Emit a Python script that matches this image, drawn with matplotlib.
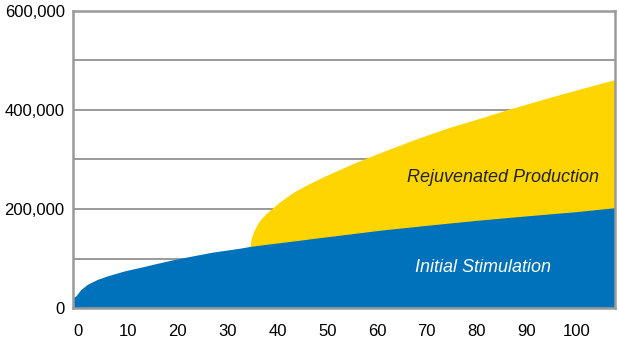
import matplotlib
matplotlib.use("Agg")
import matplotlib.pyplot as plt
from matplotlib.ticker import FuncFormatter

# values
initial_x = [-1.06, -0.5, 0.5, 1.8, 3.8, 5.8, 9.2, 12.5, 15.9, 19.2, 22.5, 27, 32.5, 34.5,
             38, 42.5, 48, 54.5, 60.5, 70, 80, 90, 100, 107.8]
initial_y = [21000, 25000, 38000, 48500, 58500, 65500, 75500, 83000, 91000, 98500, 105000,
             113500, 121500, 125000, 129500, 135000, 142000, 150000, 157500, 167500,
             177500, 186500, 195000, 203000]

rejuv_x = [34.5, 34.7, 35.1, 35.7, 36.5, 37.5, 38.5, 40.5, 43.2, 45.9, 49.2, 52.5, 55.9,
           61.2, 68, 74.6, 81.3, 86, 95, 100, 107.8]
rejuv_y = [125000, 140000, 152000, 165000, 178000, 189000, 198000, 215000, 234000, 249000,
           265000, 280000, 295000, 316000, 342000, 365000, 385000, 400000, 426000,
           440000, 461000]

x_ticks = [0, 10, 20, 30, 40, 50, 60, 70, 80, 90, 100]
y_ticks = [0, 200000, 400000, 600000]

blue = "#0072bc"
yellow = "#ffd500"
grey = "#9a9a9a"

plt.rcParams['font.family'] = ['Liberation Sans', 'DejaVu Sans']

fig = plt.figure(figsize=(6.2, 3.39), dpi=100)
ax = fig.add_axes([0.1177, 0.09, 0.8743, 0.879])

ax.fill_between(rejuv_x, 0, rejuv_y, color=yellow, lw=0, zorder=2)
ax.fill_between(initial_x, 0, initial_y, color=blue, lw=0, zorder=3)

ax.set_xlim(-1.06, 107.8)
ax.set_ylim(0, 600000)
ax.set_xticks(x_ticks)
ax.set_yticks(y_ticks)
ax.yaxis.set_major_formatter(FuncFormatter(lambda v, p: f"{int(v):,}"))

for v in range(100000, 600000, 100000):
    ax.axhline(v, color=grey, lw=1.4, zorder=1)

for s in ax.spines.values():
    s.set_color(grey)
    s.set_linewidth(1.8)
    s.set_zorder(4)

ax.tick_params(axis='both', length=0, labelsize=12, colors='black')
ax.tick_params(axis='x', pad=11)
ax.tick_params(axis='y', pad=6)

ax.text(85.2, 264700, "Rejuvenated Production", fontsize=13, style='italic',
        color='#222222', ha='center', va='center', zorder=5)
ax.text(81.2, 83500, "Initial Stimulation", fontsize=13, style='italic',
        color='white', ha='center', va='center', zorder=5)

fig.savefig("out.png", dpi=100)
